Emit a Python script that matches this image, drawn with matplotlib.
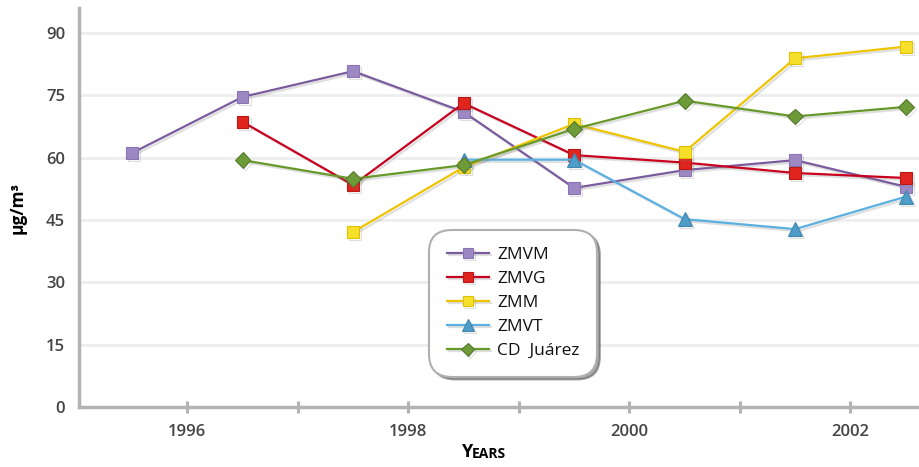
import numpy as np
import matplotlib.pyplot as plt
import matplotlib.patheffects as pe

# values (ug/m3)
years = [1995.5, 1996.5, 1997.5, 1998.5, 1999.5, 2000.5, 2001.5, 2002.5]
zmvm = [61.1, 74.6, 80.8, 71.0, 52.7, 57.0, 59.4, 53.0]
zmvg = [None, 68.6, 53.4, 73.1, 60.6, 58.8, 56.3, 55.1]
zmm = [None, None, 42.1, 57.7, 68.1, 61.4, 83.9, 86.7]
zmvt = [None, None, None, 59.5, 59.5, 45.2, 42.8, 50.6]
juarez = [None, 59.4, 54.9, 58.2, 66.9, 73.7, 69.9, 72.2]

series_names = ["ZMVM", "ZMVG", "ZMM", "ZMVT", "CD  Juárez"]
y_ticks = [0, 15, 30, 45, 60, 75, 90]
x_ticks = [1996, 1997, 1998, 1999, 2000, 2001, 2002]
x_labels = ["1996", "", "1998", "", "2000", "", "2002"]

plt.rcParams['font.family'] = ['Open Sans', 'DejaVu Sans']

fig = plt.figure(figsize=(9.19, 4.67), dpi=100)
ax = fig.add_axes([79 / 919, 60 / 467, 840 / 919, 399 / 467])

styles = [
    dict(color="#7a5c9e", marker="s", mfc="#9d88c4", mec="#8a74b2", ms=8.5),
    dict(color="#c8001e", marker="s", mfc="#e0241e", mec="#b81818", ms=8.5),
    dict(color="#eec400", marker="s", mfc="#f7e02a", mec="#e0c000", ms=8.5),
    dict(color="#5ab0e0", marker="^", mfc="#4e9cc8", mec="#3f86b0", ms=10),
    dict(color="#66982a", marker="D", mfc="#6e9a3a", mec="#557a2a", ms=8),
]
data = [zmvm, zmvg, zmm, zmvt, juarez]

shadow = [pe.SimpleLineShadow(offset=(1.5, -1.5), shadow_color="0.5", alpha=0.25), pe.Normal()]

for name, vals, st in zip(series_names, data, styles):
    xs = [x for x, v in zip(years, vals) if v is not None]
    ys = [v for v in vals if v is not None]
    ax.plot(xs, ys, color=st["color"], lw=1.6, marker=st["marker"],
            ms=st["ms"], mfc=st["mfc"], mec=st["mec"], mew=0.8,
            label=name, path_effects=shadow)

ax.set_xlim(1995.02, 2002.62)
ax.set_ylim(0, 96)
ax.set_yticks(y_ticks)
ax.set_xticks(x_ticks)
ax.set_xticklabels(x_labels)

for y in y_ticks[1:]:
    ax.axhline(y, color="#eeeeee", lw=2, zorder=0)

for s in ["top", "right"]:
    ax.spines[s].set_visible(False)
for s in ["left", "bottom"]:
    ax.spines[s].set_color("#b3b3b3")
    ax.spines[s].set_linewidth(2.5)

ax.tick_params(axis="x", direction="inout", length=9, width=2.2,
               color="#b3b3b3", labelsize=12, labelcolor="#444444", pad=8)
ax.tick_params(axis="y", length=0, labelsize=12, labelcolor="#444444", pad=10)
for lbl in ax.get_xticklabels() + ax.get_yticklabels():
    lbl.set_fontweight("semibold")

ax.set_ylabel("µg/m³", fontsize=12.5, fontweight="bold", labelpad=14)

# small-caps style axis title
fig.text(0.5135, 0.012, "Y", fontsize=13, fontweight="bold", ha="right", va="bottom")
fig.text(0.5135, 0.012, "EARS", fontsize=10, fontweight="bold", ha="left", va="bottom")

leg = ax.legend(loc="center", bbox_to_anchor=(0.517, 0.26), fontsize=12.5,
                frameon=True, fancybox=True, shadow=True, borderpad=0.7,
                labelspacing=0.45, handlelength=2.4, handletextpad=0.5,
                markerscale=0.85)
for t in leg.get_texts():
    t.set_color("#111111")
frame = leg.get_frame()
frame.set_edgecolor("#b0b0b0")
frame.set_linewidth(1.5)
frame.set_boxstyle("round,pad=0.3,rounding_size=1.3")

fig.savefig("out.png", dpi=100)
